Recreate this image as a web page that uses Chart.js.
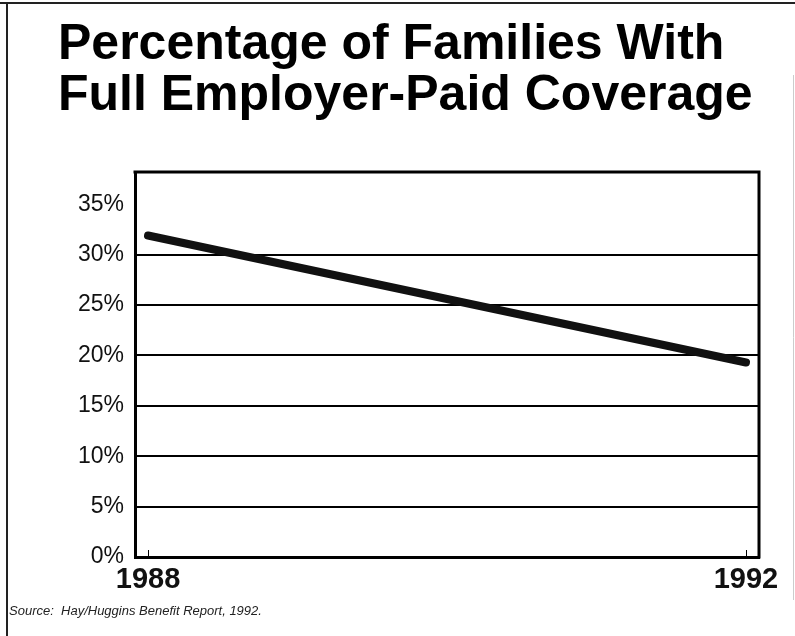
<!DOCTYPE html>
<html>
<head>
<meta charset="utf-8">
<script src="https://cdn.jsdelivr.net/npm/chart.js@4/dist/chart.umd.min.js"></script>
<style>
  html, body { margin: 0; padding: 0; background: #fff; }
  #wrap { width: 795px; height: 636px; position: relative; }
</style>
</head>
<body>
<div id="wrap"><canvas id="c" width="795" height="636"></canvas></div>
<script>
// Share of families whose coverage is fully paid by the employer
const years = [1988, 1992];
const coverage = [31.9, 19.3];
const yTickValues = [0, 5, 10, 15, 20, 25, 30, 35];
const xTickValues = [1988, 1992];
const titleLines = ['Percentage of Families With', 'Full Employer-Paid Coverage'];
const sourceNote = 'Source:  Hay/Huggins Benefit Report, 1992.';

const SANS = '"Liberation Sans", Arial, Helvetica, sans-serif';
const NARROW = '"Liberation Sans Narrow", "Liberation Sans", Arial, sans-serif';

// Title, source note, page frame, plot box and small inner year ticks
const decorations = {
  id: 'decorations',
  beforeDraw(chart) {
    const ctx = chart.ctx;
    ctx.save();
    ctx.fillStyle = '#fff';
    ctx.fillRect(0, 0, chart.width, chart.height);
    ctx.restore();
  },
  afterDraw(chart) {
    const ctx = chart.ctx;
    const a = chart.chartArea;
    const xs = chart.scales.x;
    ctx.save();
    // page frame
    ctx.strokeStyle = '#222';
    ctx.lineWidth = 2;
    ctx.beginPath();
    ctx.moveTo(0, 3); ctx.lineTo(chart.width, 3);
    ctx.moveTo(7, 3); ctx.lineTo(7, chart.height);
    ctx.stroke();
    ctx.strokeStyle = '#ccc';
    ctx.lineWidth = 1;
    ctx.beginPath();
    ctx.moveTo(793.5, 75); ctx.lineTo(793.5, 600);
    ctx.stroke();

    // top and right sides of the plot box
    ctx.strokeStyle = '#000';
    ctx.lineWidth = 3;
    ctx.beginPath();
    ctx.moveTo(a.left - 1.5, a.top); ctx.lineTo(a.right, a.top);
    ctx.lineTo(a.right, a.bottom + 1.5);
    ctx.stroke();

    // short inner tick marks at the labelled years
    ctx.lineWidth = 1;
    ctx.beginPath();
    xTickValues.forEach(v => {
      const px = Math.round(xs.getPixelForValue(v)) + 0.5;
      ctx.moveTo(px, a.bottom - 1);
      ctx.lineTo(px, a.bottom - 7);
    });
    ctx.stroke();

    // title
    ctx.fillStyle = '#000';
    ctx.textAlign = 'left';
    ctx.textBaseline = 'alphabetic';
    ctx.font = 'bold 50px ' + SANS;
    ctx.fillText(titleLines[0], 58, 59);
    ctx.fillText(titleLines[1], 58, 110);

    // source note
    ctx.fillStyle = '#222';
    ctx.font = 'italic 13px ' + SANS;
    ctx.fillText(sourceNote, 9, 615);
    ctx.restore();
  }
};

new Chart(document.getElementById('c'), {
  type: 'line',
  data: {
    datasets: [{
      data: years.map((y, i) => ({ x: y, y: coverage[i] })),
      borderColor: '#111',
      borderWidth: 8,
      borderCapStyle: 'round',
      borderJoinStyle: 'round',
      pointRadius: 0,
      tension: 0,
      fill: false
    }]
  },
  options: {
    responsive: false,
    animation: false,
    devicePixelRatio: 1,
    layout: { padding: { left: 57, right: 36, top: 172, bottom: 0 } },
    plugins: {
      legend: { display: false },
      tooltip: { enabled: false },
      title: { display: false }
    },
    scales: {
      x: {
        type: 'linear',
        min: 1987.913,
        max: 1992.087,
        afterBuildTicks: s => { s.ticks = xTickValues.map(v => ({ value: v })); },
        afterFit: s => { s.height = 79; },
        grid: { display: false, drawTicks: false },
        border: { display: true, color: '#000', width: 3 },
        ticks: {
          color: '#111',
          padding: 6,
          maxRotation: 0,
          font: { family: NARROW, size: 29, weight: 'bold' },
          callback: v => String(v)
        }
      },
      y: {
        min: 0,
        max: 38.2,
        afterBuildTicks: s => { s.ticks = yTickValues.map(v => ({ value: v })); },
        afterFit: s => { s.width = 78; },
        grid: {
          drawTicks: false,
          lineWidth: 2,
          color: c => (c.tick && (c.tick.value === 35 || c.tick.value === 0)) ? 'rgba(0,0,0,0)' : '#000'
        },
        border: { display: true, color: '#000', width: 3 },
        ticks: {
          color: '#111',
          padding: 11,
          font: { family: SANS, size: 23 },
          callback: v => v + '%'
        }
      }
    }
  },
  plugins: [decorations]
});
</script>
</body>
</html>
